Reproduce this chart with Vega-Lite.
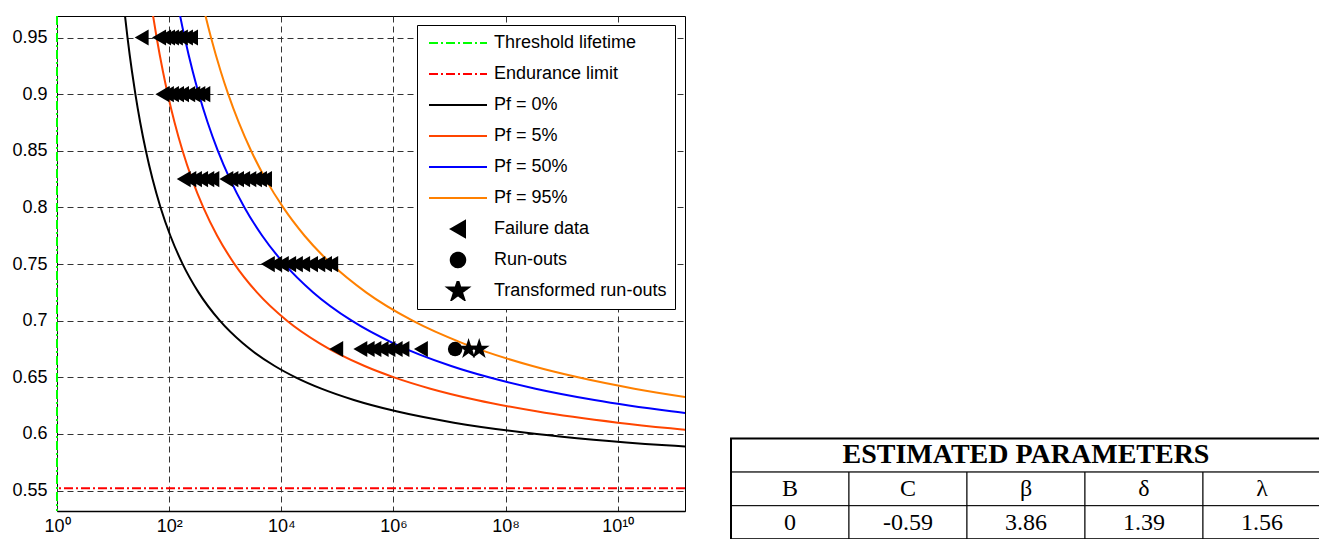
{
  "$schema": "https://vega.github.io/schema/vega-lite/v6.json",
  "padding": {"left": 11, "top": 14, "right": 0, "bottom": 0},
  "spacing": 43,
  "config": {
    "font": "Liberation Sans",
    "view": {"stroke": "black", "strokeWidth": 1}
  },
  "datasets": {
    "curves": [
      {"series": "Pf = 0%", "stress": 0.99, "log10_cycles": 1.1682},
      {"series": "Pf = 0%", "stress": 0.97, "log10_cycles": 1.2108},
      {"series": "Pf = 0%", "stress": 0.95, "log10_cycles": 1.2576},
      {"series": "Pf = 0%", "stress": 0.92, "log10_cycles": 1.3373},
      {"series": "Pf = 0%", "stress": 0.90, "log10_cycles": 1.3979},
      {"series": "Pf = 0%", "stress": 0.875, "log10_cycles": 1.4842},
      {"series": "Pf = 0%", "stress": 0.85, "log10_cycles": 1.5849},
      {"series": "Pf = 0%", "stress": 0.825, "log10_cycles": 1.7038},
      {"series": "Pf = 0%", "stress": 0.80, "log10_cycles": 1.8467},
      {"series": "Pf = 0%", "stress": 0.775, "log10_cycles": 2.0217},
      {"series": "Pf = 0%", "stress": 0.75, "log10_cycles": 2.2410},
      {"series": "Pf = 0%", "stress": 0.725, "log10_cycles": 2.5240},
      {"series": "Pf = 0%", "stress": 0.70, "log10_cycles": 2.9036},
      {"series": "Pf = 0%", "stress": 0.68, "log10_cycles": 3.3156},
      {"series": "Pf = 0%", "stress": 0.66, "log10_cycles": 3.8830},
      {"series": "Pf = 0%", "stress": 0.65, "log10_cycles": 4.2551},
      {"series": "Pf = 0%", "stress": 0.64, "log10_cycles": 4.7143},
      {"series": "Pf = 0%", "stress": 0.63, "log10_cycles": 5.2946},
      {"series": "Pf = 0%", "stress": 0.62, "log10_cycles": 6.0513},
      {"series": "Pf = 0%", "stress": 0.61, "log10_cycles": 7.0794},
      {"series": "Pf = 0%", "stress": 0.60, "log10_cycles": 8.5575},
      {"series": "Pf = 0%", "stress": 0.595, "log10_cycles": 9.5678},
      {"series": "Pf = 0%", "stress": 0.59, "log10_cycles": 10.8626},
      {"series": "Pf = 0%", "stress": 0.585, "log10_cycles": 12.5789},
      {"series": "Pf = 5%", "stress": 0.99, "log10_cycles": 1.6504},
      {"series": "Pf = 5%", "stress": 0.97, "log10_cycles": 1.7106},
      {"series": "Pf = 5%", "stress": 0.95, "log10_cycles": 1.7768},
      {"series": "Pf = 5%", "stress": 0.92, "log10_cycles": 1.8893},
      {"series": "Pf = 5%", "stress": 0.90, "log10_cycles": 1.9750},
      {"series": "Pf = 5%", "stress": 0.875, "log10_cycles": 2.0969},
      {"series": "Pf = 5%", "stress": 0.85, "log10_cycles": 2.2391},
      {"series": "Pf = 5%", "stress": 0.825, "log10_cycles": 2.4072},
      {"series": "Pf = 5%", "stress": 0.80, "log10_cycles": 2.6091},
      {"series": "Pf = 5%", "stress": 0.775, "log10_cycles": 2.8563},
      {"series": "Pf = 5%", "stress": 0.75, "log10_cycles": 3.1661},
      {"series": "Pf = 5%", "stress": 0.725, "log10_cycles": 3.5659},
      {"series": "Pf = 5%", "stress": 0.70, "log10_cycles": 4.1022},
      {"series": "Pf = 5%", "stress": 0.68, "log10_cycles": 4.6842},
      {"series": "Pf = 5%", "stress": 0.66, "log10_cycles": 5.4858},
      {"series": "Pf = 5%", "stress": 0.65, "log10_cycles": 6.0116},
      {"series": "Pf = 5%", "stress": 0.64, "log10_cycles": 6.6604},
      {"series": "Pf = 5%", "stress": 0.63, "log10_cycles": 7.4802},
      {"series": "Pf = 5%", "stress": 0.62, "log10_cycles": 8.5491},
      {"series": "Pf = 5%", "stress": 0.61, "log10_cycles": 10.0017},
      {"series": "Pf = 5%", "stress": 0.605, "log10_cycles": 10.9427},
      {"series": "Pf = 5%", "stress": 0.60, "log10_cycles": 12.0899},
      {"series": "Pf = 50%", "stress": 0.99, "log10_cycles": 2.1148},
      {"series": "Pf = 50%", "stress": 0.97, "log10_cycles": 2.1920},
      {"series": "Pf = 50%", "stress": 0.95, "log10_cycles": 2.2767},
      {"series": "Pf = 50%", "stress": 0.92, "log10_cycles": 2.4209},
      {"series": "Pf = 50%", "stress": 0.90, "log10_cycles": 2.5307},
      {"series": "Pf = 50%", "stress": 0.875, "log10_cycles": 2.6869},
      {"series": "Pf = 50%", "stress": 0.85, "log10_cycles": 2.8691},
      {"series": "Pf = 50%", "stress": 0.825, "log10_cycles": 3.0845},
      {"series": "Pf = 50%", "stress": 0.80, "log10_cycles": 3.3432},
      {"series": "Pf = 50%", "stress": 0.775, "log10_cycles": 3.6599},
      {"series": "Pf = 50%", "stress": 0.75, "log10_cycles": 4.0569},
      {"series": "Pf = 50%", "stress": 0.725, "log10_cycles": 4.5693},
      {"series": "Pf = 50%", "stress": 0.70, "log10_cycles": 5.2564},
      {"series": "Pf = 50%", "stress": 0.68, "log10_cycles": 6.0022},
      {"series": "Pf = 50%", "stress": 0.66, "log10_cycles": 7.0294},
      {"series": "Pf = 50%", "stress": 0.65, "log10_cycles": 7.7031},
      {"series": "Pf = 50%", "stress": 0.64, "log10_cycles": 8.5345},
      {"series": "Pf = 50%", "stress": 0.63, "log10_cycles": 9.5849},
      {"series": "Pf = 50%", "stress": 0.62, "log10_cycles": 10.9547},
      {"series": "Pf = 50%", "stress": 0.61, "log10_cycles": 12.8159},
      {"series": "Pf = 95%", "stress": 0.99, "log10_cycles": 2.5513},
      {"series": "Pf = 95%", "stress": 0.97, "log10_cycles": 2.6444},
      {"series": "Pf = 95%", "stress": 0.95, "log10_cycles": 2.7466},
      {"series": "Pf = 95%", "stress": 0.92, "log10_cycles": 2.9206},
      {"series": "Pf = 95%", "stress": 0.90, "log10_cycles": 3.0531},
      {"series": "Pf = 95%", "stress": 0.875, "log10_cycles": 3.2415},
      {"series": "Pf = 95%", "stress": 0.85, "log10_cycles": 3.4613},
      {"series": "Pf = 95%", "stress": 0.825, "log10_cycles": 3.7211},
      {"series": "Pf = 95%", "stress": 0.80, "log10_cycles": 4.0333},
      {"series": "Pf = 95%", "stress": 0.775, "log10_cycles": 4.4154},
      {"series": "Pf = 95%", "stress": 0.75, "log10_cycles": 4.8943},
      {"series": "Pf = 95%", "stress": 0.725, "log10_cycles": 5.5124},
      {"series": "Pf = 95%", "stress": 0.70, "log10_cycles": 6.3414},
      {"series": "Pf = 95%", "stress": 0.68, "log10_cycles": 7.2411},
      {"series": "Pf = 95%", "stress": 0.66, "log10_cycles": 8.4803},
      {"series": "Pf = 95%", "stress": 0.65, "log10_cycles": 9.2930},
      {"series": "Pf = 95%", "stress": 0.64, "log10_cycles": 10.2960},
      {"series": "Pf = 95%", "stress": 0.63, "log10_cycles": 11.5632}
    ],
    "points": [
      {"series": "Failure data", "stress": 0.95, "log10_cycles": 1.51},
      {"series": "Failure data", "stress": 0.95, "log10_cycles": 1.82},
      {"series": "Failure data", "stress": 0.95, "log10_cycles": 1.91},
      {"series": "Failure data", "stress": 0.95, "log10_cycles": 1.98},
      {"series": "Failure data", "stress": 0.95, "log10_cycles": 2.05},
      {"series": "Failure data", "stress": 0.95, "log10_cycles": 2.12},
      {"series": "Failure data", "stress": 0.95, "log10_cycles": 2.21},
      {"series": "Failure data", "stress": 0.95, "log10_cycles": 2.30},
      {"series": "Failure data", "stress": 0.95, "log10_cycles": 2.39},
      {"series": "Failure data", "stress": 0.9, "log10_cycles": 1.88},
      {"series": "Failure data", "stress": 0.9, "log10_cycles": 1.96},
      {"series": "Failure data", "stress": 0.9, "log10_cycles": 2.05},
      {"series": "Failure data", "stress": 0.9, "log10_cycles": 2.14},
      {"series": "Failure data", "stress": 0.9, "log10_cycles": 2.23},
      {"series": "Failure data", "stress": 0.9, "log10_cycles": 2.34},
      {"series": "Failure data", "stress": 0.9, "log10_cycles": 2.43},
      {"series": "Failure data", "stress": 0.9, "log10_cycles": 2.52},
      {"series": "Failure data", "stress": 0.9, "log10_cycles": 2.61},
      {"series": "Failure data", "stress": 0.825, "log10_cycles": 2.26},
      {"series": "Failure data", "stress": 0.825, "log10_cycles": 2.36},
      {"series": "Failure data", "stress": 0.825, "log10_cycles": 2.46},
      {"series": "Failure data", "stress": 0.825, "log10_cycles": 2.57},
      {"series": "Failure data", "stress": 0.825, "log10_cycles": 2.68},
      {"series": "Failure data", "stress": 0.825, "log10_cycles": 2.77},
      {"series": "Failure data", "stress": 0.825, "log10_cycles": 3.02},
      {"series": "Failure data", "stress": 0.825, "log10_cycles": 3.11},
      {"series": "Failure data", "stress": 0.825, "log10_cycles": 3.21},
      {"series": "Failure data", "stress": 0.825, "log10_cycles": 3.32},
      {"series": "Failure data", "stress": 0.825, "log10_cycles": 3.43},
      {"series": "Failure data", "stress": 0.825, "log10_cycles": 3.53},
      {"series": "Failure data", "stress": 0.825, "log10_cycles": 3.62},
      {"series": "Failure data", "stress": 0.825, "log10_cycles": 3.71},
      {"series": "Failure data", "stress": 0.75, "log10_cycles": 3.76},
      {"series": "Failure data", "stress": 0.75, "log10_cycles": 3.89},
      {"series": "Failure data", "stress": 0.75, "log10_cycles": 4.01},
      {"series": "Failure data", "stress": 0.75, "log10_cycles": 4.14},
      {"series": "Failure data", "stress": 0.75, "log10_cycles": 4.26},
      {"series": "Failure data", "stress": 0.75, "log10_cycles": 4.39},
      {"series": "Failure data", "stress": 0.75, "log10_cycles": 4.53},
      {"series": "Failure data", "stress": 0.75, "log10_cycles": 4.66},
      {"series": "Failure data", "stress": 0.75, "log10_cycles": 4.78},
      {"series": "Failure data", "stress": 0.75, "log10_cycles": 4.89},
      {"series": "Failure data", "stress": 0.675, "log10_cycles": 4.98},
      {"series": "Failure data", "stress": 0.675, "log10_cycles": 5.41},
      {"series": "Failure data", "stress": 0.675, "log10_cycles": 5.54},
      {"series": "Failure data", "stress": 0.675, "log10_cycles": 5.66},
      {"series": "Failure data", "stress": 0.675, "log10_cycles": 5.79},
      {"series": "Failure data", "stress": 0.675, "log10_cycles": 5.91},
      {"series": "Failure data", "stress": 0.675, "log10_cycles": 6.04},
      {"series": "Failure data", "stress": 0.675, "log10_cycles": 6.16},
      {"series": "Failure data", "stress": 0.675, "log10_cycles": 6.49},
      {"series": "Run-outs", "stress": 0.675, "log10_cycles": 7.10},
      {"series": "Transformed run-outs", "stress": 0.675, "log10_cycles": 7.34},
      {"series": "Transformed run-outs", "stress": 0.675, "log10_cycles": 7.53}
    ],
    "table": [
      {"part": "header", "c0": 0, "c1": 5, "r0": 0, "r1": 1, "cm": 2.5, "rm": 0.5, "label": "ESTIMATED PARAMETERS"},
      {"part": "cell", "c0": 0, "c1": 1, "r0": 1, "r1": 2, "cm": 0.5, "rm": 1.5, "label": "B"},
      {"part": "cell", "c0": 1, "c1": 2, "r0": 1, "r1": 2, "cm": 1.5, "rm": 1.5, "label": "C"},
      {"part": "cell", "c0": 2, "c1": 3, "r0": 1, "r1": 2, "cm": 2.5, "rm": 1.5, "label": "β"},
      {"part": "cell", "c0": 3, "c1": 4, "r0": 1, "r1": 2, "cm": 3.5, "rm": 1.5, "label": "δ"},
      {"part": "cell", "c0": 4, "c1": 5, "r0": 1, "r1": 2, "cm": 4.5, "rm": 1.5, "label": "λ"},
      {"part": "cell", "c0": 0, "c1": 1, "r0": 2, "r1": 3, "cm": 0.5, "rm": 2.5, "label": "0"},
      {"part": "cell", "c0": 1, "c1": 2, "r0": 2, "r1": 3, "cm": 1.5, "rm": 2.5, "label": "-0.59"},
      {"part": "cell", "c0": 2, "c1": 3, "r0": 2, "r1": 3, "cm": 2.5, "rm": 2.5, "label": "3.86"},
      {"part": "cell", "c0": 3, "c1": 4, "r0": 2, "r1": 3, "cm": 3.5, "rm": 2.5, "label": "1.39"},
      {"part": "cell", "c0": 4, "c1": 5, "r0": 2, "r1": 3, "cm": 4.5, "rm": 2.5, "label": "1.56"},
      {"part": "frame", "c0": 0, "c1": 5, "r0": 0, "r1": 3, "cm": 2.5, "rm": 1.5, "label": ""}
    ]
  },
  "hconcat": [
    {
      "width": 628,
      "height": 495,
      "encoding": {
        "x": {
          "field": "log10_cycles", "type": "quantitative",
          "scale": {"domain": [0, 11.2], "nice": false, "zero": false},
          "axis": {
            "title": null, "values": [0, 2, 4, 6, 8, 10],
            "labelExpr": "'10' + (datum.value == 0 ? '⁰' : datum.value == 2 ? '²' : datum.value == 4 ? '⁴' : datum.value == 6 ? '⁶' : datum.value == 8 ? '⁸' : '¹⁰')",
            "grid": true, "gridDash": [6, 4], "gridColor": "#333333", "gridOpacity": 1,
            "ticks": false, "domain": true, "domainColor": "black", "domainWidth": 1.5,
            "labelFontSize": 18, "labelColor": "black", "labelPadding": 6, "labelFlush": false
          }
        },
        "y": {
          "field": "stress", "type": "quantitative",
          "scale": {"domain": [0.532, 0.969], "nice": false, "zero": false},
          "axis": {
            "title": null, "values": [0.55, 0.6, 0.65, 0.7, 0.75, 0.8, 0.85, 0.9, 0.95],
            "labelExpr": "format(datum.value, '.2~f')",
            "grid": true, "gridDash": [6, 4], "gridColor": "#333333", "gridOpacity": 1,
            "ticks": false, "domain": false,
            "labelFontSize": 18, "labelColor": "black", "labelPadding": 10
          }
        },
        "color": {
          "field": "series", "type": "nominal",
          "scale": {
            "domain": ["Threshold lifetime", "Endurance limit", "Pf = 0%", "Pf = 5%", "Pf = 50%", "Pf = 95%", "Failure data", "Run-outs", "Transformed run-outs"],
            "range": ["#00FF00", "#FF0000", "#000000", "#FF4500", "#0000FF", "#FF8000", "#000000", "#000000", "#000000"]
          },
          "legend": {
            "title": null, "orient": "none", "legendX": 360, "legendY": 9,
            "padding": 8, "strokeColor": "black", "fillColor": "white",
            "labelFont": "Liberation Sans", "labelFontSize": 18, "labelColor": "black", "labelLimit": 400,
            "symbolSize": 3364, "symbolStrokeWidth": 2, "clipHeight": 20, "rowPadding": 11,
            "labelOffset": 6, "symbolOffset": 3,
            "encode": {
              "symbols": {
                "update": {
                  "fill": {"signal": "indexof(['Failure data','Run-outs','Transformed run-outs'], datum.value) >= 0 ? 'black' : 'transparent'"},
                  "stroke": {"signal": "datum.value == 'Threshold lifetime' ? '#00FF00' : datum.value == 'Endurance limit' ? '#FF0000' : datum.value == 'Pf = 5%' ? '#FF4500' : datum.value == 'Pf = 50%' ? '#0000FF' : datum.value == 'Pf = 95%' ? '#FF8000' : datum.value == 'Pf = 0%' ? '#000000' : 'transparent'"},
                  "strokeDash": {"signal": "datum.value == 'Threshold lifetime' || datum.value == 'Endurance limit' ? [9, 3, 2, 3] : [1, 0]"},
                  "size": {"signal": "datum.value == 'Failure data' ? 260 : datum.value == 'Run-outs' ? 210 : datum.value == 'Transformed run-outs' ? 480 : 3364"},
                  "strokeWidth": {"value": 2},
                  "opacity": {"value": 1}
                }
              }
            }
          }
        },
        "shape": {
          "field": "series", "type": "nominal",
          "scale": {
            "domain": ["Threshold lifetime", "Endurance limit", "Pf = 0%", "Pf = 5%", "Pf = 50%", "Pf = 95%", "Failure data", "Run-outs", "Transformed run-outs"],
            "range": ["stroke", "stroke", "stroke", "stroke", "stroke", "stroke", "triangle-left", "circle", "M0,-1L0.2245,-0.309L0.951,-0.309L0.363,0.118L0.588,0.809L0,0.382L-0.588,0.809L-0.363,0.118L-0.951,-0.309L-0.2245,-0.309Z"]
          }
        }
      },
      "layer": [
        {
          "data": {"values": [{"series": "Threshold lifetime", "log10_cycles": 0}]},
          "mark": {"type": "rule", "strokeDash": [9, 3, 2, 3], "strokeWidth": 2, "clip": false},
          "encoding": {"y": null, "shape": null}
        },
        {
          "data": {"values": [{"series": "Endurance limit", "stress": 0.552}]},
          "mark": {"type": "rule", "strokeDash": [9, 3, 2, 3], "strokeWidth": 2},
          "encoding": {"x": null, "shape": null}
        },
        {
          "data": {"name": "curves"},
          "mark": {"type": "line", "strokeWidth": 2, "clip": true, "interpolate": "monotone"},
          "encoding": {"shape": null}
        },
        {
          "data": {"name": "points"},
          "transform": [{"filter": "datum.series == 'Failure data'"}],
          "mark": {"type": "point", "filled": true, "opacity": 1, "clip": true, "size": 260}
        },
        {
          "data": {"name": "points"},
          "transform": [{"filter": "datum.series == 'Run-outs'"}],
          "mark": {"type": "point", "filled": true, "opacity": 1, "clip": true, "size": 210}
        },
        {
          "data": {"name": "points"},
          "transform": [{"filter": "datum.series == 'Transformed run-outs'"}],
          "mark": {"type": "point", "filled": true, "opacity": 1, "clip": true, "size": 480}
        }
      ]
    },
    {
      "width": 590,
      "height": 524,
      "view": {"stroke": null},
      "data": {"name": "table"},
      "encoding": {
        "x": {"field": "c0", "type": "quantitative", "scale": {"domain": [0, 5], "nice": false, "zero": false}, "axis": null},
        "x2": {"field": "c1"},
        "y": {"field": "r0", "type": "quantitative", "scale": {"domain": [-12.564, 3.02], "nice": false, "zero": false, "reverse": true}, "axis": null},
        "y2": {"field": "r1"}
      },
      "layer": [
        {
          "transform": [{"filter": "datum.part != 'frame'"}],
          "mark": {"type": "rect", "fill": "white", "stroke": "black", "strokeWidth": 1}
        },
        {
          "transform": [{"filter": "datum.part == 'frame'"}],
          "mark": {"type": "rect", "fill": null, "stroke": "black", "strokeWidth": 2}
        },
        {
          "transform": [{"filter": "datum.part == 'header'"}],
          "mark": {"type": "text", "font": "Liberation Serif", "fontWeight": "bold", "fontSize": 28, "align": "center", "baseline": "middle", "color": "black"},
          "encoding": {
            "x": {"field": "cm", "type": "quantitative"},
            "x2": null,
            "y": {"field": "rm", "type": "quantitative"},
            "y2": null,
            "text": {"field": "label"}
          }
        },
        {
          "transform": [{"filter": "datum.part == 'cell'"}],
          "mark": {"type": "text", "font": "Liberation Serif", "fontSize": 24, "align": "center", "baseline": "middle", "color": "black"},
          "encoding": {
            "x": {"field": "cm", "type": "quantitative"},
            "x2": null,
            "y": {"field": "rm", "type": "quantitative"},
            "y2": null,
            "text": {"field": "label"}
          }
        }
      ]
    }
  ]
}
